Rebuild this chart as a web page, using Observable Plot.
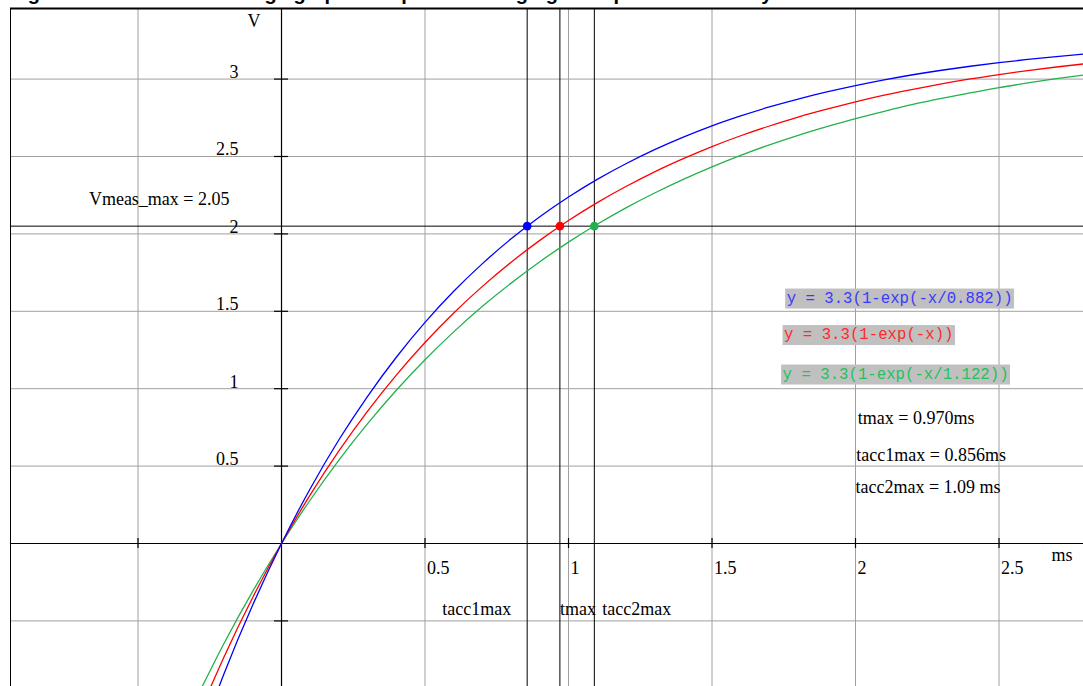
<!DOCTYPE html>
<html>
<head>
<meta charset="utf-8">
<script src="https://cdn.jsdelivr.net/npm/d3@7"></script>
<script src="https://cdn.jsdelivr.net/npm/@observablehq/plot@0.6"></script>
<style>
html, body { margin: 0; padding: 0; background: #fff; overflow: hidden; }
#title { height: 7px; overflow: hidden; position: relative; }
#title span { position: absolute; left: 10px; top: -19px; font: bold 20px "Liberation Sans", Arial, sans-serif; line-height: 24px; white-space: nowrap; color: #000; }
#chart svg { display: block; }
</style>
</head>
<body>
<div id="title"><span>Figure 12: Calculated voltage graph of capacitor charging vs capacitor accuracy</span></div>
<div id="chart"></div>
<script>
// ---- data ----
const xSample = [-0.3, -0.2, -0.1, 0, 0.1, 0.2, 0.3, 0.4, 0.5, 0.6, 0.7, 0.8, 0.9, 1.0, 1.1, 1.2, 1.3, 1.4, 1.5, 1.6, 1.7, 1.8, 1.9, 2.0, 2.1, 2.2, 2.3, 2.4, 2.5, 2.6, 2.7, 2.8];
const vBlue  = [-1.337, -0.840, -0.396, 0, 0.354, 0.670, 0.951, 1.203, 1.428, 1.629, 1.808, 1.968, 2.111, 2.238, 2.352, 2.453, 2.544, 2.625, 2.698, 2.762, 2.820, 2.871, 2.917, 2.958, 2.995, 3.028, 3.057, 3.083, 3.106, 3.127, 3.145, 3.162];
const vRed   = [-1.155, -0.731, -0.347, 0, 0.314, 0.598, 0.855, 1.088, 1.298, 1.489, 1.661, 1.817, 1.958, 2.086, 2.202, 2.306, 2.401, 2.486, 2.564, 2.634, 2.697, 2.755, 2.806, 2.853, 2.896, 2.934, 2.969, 3.001, 3.029, 3.055, 3.078, 3.099];
const vGreen = [-1.012, -0.644, -0.308, 0, 0.281, 0.539, 0.774, 0.990, 1.187, 1.367, 1.532, 1.682, 1.820, 1.947, 2.062, 2.168, 2.264, 2.352, 2.433, 2.507, 2.575, 2.637, 2.693, 2.745, 2.792, 2.836, 2.875, 2.911, 2.945, 2.975, 3.003, 3.028];

const vmeasMax = 2.05;
const crossNames = ["tacc1max", "tmax", "tacc2max"];
const crossTimes = [0.856, 0.970, 1.09];
const crossColors = ["#0000ff", "#ff0000", "#22b14c"];

const formulaTexts = ["y = 3.3(1-exp(-x/0.882))", "y = 3.3(1-exp(-x))", "y = 3.3(1-exp(-x/1.122))"];
const formulaColors = ["#3a3aff", "#ff2a2a", "#25c05a"];
const formulaX = [1.760, 1.751, 1.746];
const formulaY = [1.589, 1.353, 1.098];

const resultTexts = ["tmax = 0.970ms", "tacc1max = 0.856ms", "tacc2max = 1.09 ms"];
const resultX = [2.008, 2.003, 2.000];
const resultY = [0.775, 0.536, 0.323];

const xGrid = [-0.5, 0.5, 1, 1.5, 2, 2.5];
const yGrid = [-0.5, 0.5, 1, 1.5, 2, 2.5, 3];
const xTickLabels = [0.5, 1, 1.5, 2, 2.5];
const yTickLabels = [0.5, 1, 1.5, 2, 2.5, 3];
const xDomain = [-0.9443, 2.7944];
const yDomain = [-0.9238, 3.456];

// ---- build ----
const serif = "'Liberation Serif', 'Times New Roman', serif";
const mono = "'Liberation Mono', 'Courier New', monospace";
const mk = (vals) => xSample.map((x, i) => ({x, y: vals[i]}));
const crossPts = crossTimes.map((t, i) => ({t, v: vmeasMax, c: crossColors[i], name: crossNames[i]}));
const formulas = formulaTexts.map((t, i) => ({t, x: formulaX[i], y: formulaY[i], c: formulaColors[i]}));
const results = resultTexts.map((t, i) => ({t, x: resultX[i], y: resultY[i]}));
const txt = {fontSize: 18, fontFamily: serif, fill: "#000", lineAnchor: "bottom"};

const plot = Plot.plot({
  width: 1083,
  height: 679,
  marginLeft: 10,
  marginRight: 0,
  marginTop: 1,
  marginBottom: 0,
  style: {background: "#fff", fontFamily: serif, overflow: "visible"},
  x: {domain: xDomain, axis: null},
  y: {domain: yDomain, axis: null},
  marks: [
    // grid
    Plot.ruleX(xGrid, {x: d => d, stroke: "#a0a0a0", strokeWidth: 1}),
    Plot.ruleY(yGrid, {y: d => d, stroke: "#a0a0a0", strokeWidth: 1}),
    // frame (top & left)
    Plot.ruleY([yDomain[1]], {y: d => d, stroke: "#000", strokeWidth: 2}),
    Plot.ruleX([xDomain[0]], {x: d => d, stroke: "#000", strokeWidth: 1}),
    // axes
    Plot.ruleX([0], {x: d => d, stroke: "#000", strokeWidth: 1.2}),
    Plot.ruleY([0], {y: d => d, stroke: "#000", strokeWidth: 1.2}),
    // ticks
    Plot.ruleY(yGrid, {y: d => d, x1: () => 0, x2: () => 0, insetLeft: -7, insetRight: -7, stroke: "#000", strokeWidth: 1.2}),
    Plot.ruleX(xGrid, {x: d => d, y1: () => 0, y2: () => 0, insetTop: -5, insetBottom: -5, stroke: "#000", strokeWidth: 1.2}),
    // marker lines
    Plot.ruleY([vmeasMax], {y: d => d, stroke: "#000", strokeWidth: 1}),
    Plot.ruleX(crossTimes, {x: d => d, stroke: "#000", strokeWidth: 1}),
    // curves
    Plot.line(mk(vGreen), {x: "x", y: "y", stroke: "#22b14c", strokeWidth: 1.3, curve: "natural", clip: true}),
    Plot.line(mk(vRed), {x: "x", y: "y", stroke: "#ff0000", strokeWidth: 1.3, curve: "natural", clip: true}),
    Plot.line(mk(vBlue), {x: "x", y: "y", stroke: "#0000ff", strokeWidth: 1.3, curve: "natural", clip: true}),
    // crossing points
    Plot.dot(crossPts, {x: "t", y: "v", fill: d => d.c, r: 4.3, stroke: "none"}),
    // tick labels
    Plot.text(yTickLabels, {...txt, x: () => 0, y: d => d, text: d => String(d), textAnchor: "end", dx: -43, dy: -1}),
    Plot.text(xTickLabels, {...txt, x: d => d, y: () => 0, text: d => String(d), textAnchor: "start", dx: 2, dy: 31}),
    Plot.text(["V"], {...txt, x: () => 0, y: () => yDomain[1], text: d => d, textAnchor: "start", dx: -34, dy: 18}),
    Plot.text(["ms"], {...txt, x: () => xDomain[1], y: () => 0, text: d => d, textAnchor: "end", dx: -11, dy: 18}),
    // Vmeas label
    Plot.text(["Vmeas_max = 2.05"], {...txt, x: () => 0, y: () => vmeasMax, text: d => d, textAnchor: "end", dx: -52, dy: -21}),
    // labels under vertical lines
    Plot.text(crossPts.filter(d => d.name === "tacc1max"), {...txt, x: "t", y: () => 0, text: "name", textAnchor: "end", dx: -16, dy: 72}),
    Plot.text(crossPts.filter(d => d.name === "tmax"), {...txt, x: "t", y: () => 0, text: "name", textAnchor: "start", dx: 0, dy: 72}),
    Plot.text(crossPts.filter(d => d.name === "tacc2max"), {...txt, x: "t", y: () => 0, text: "name", textAnchor: "start", dx: 8, dy: 72}),
    // formulas
    Plot.text(formulas, {x: "x", y: "y", text: "t", fill: "c", textAnchor: "start", lineAnchor: "middle", fontSize: 15.7, fontFamily: mono}),
    // results
    Plot.text(results, {...txt, x: "x", y: "y", text: "t", textAnchor: "start"})
  ]
});

document.getElementById("chart").append(plot);

// gray background boxes behind formula texts
const ns = "http://www.w3.org/2000/svg";
plot.querySelectorAll("text").forEach(t => {
  const s = t.textContent;
  if (formulaTexts.includes(s)) {
    const b = t.getBBox();
    const r = document.createElementNS(ns, "rect");
    r.setAttribute("x", b.x - 1.5);
    r.setAttribute("y", b.y - 1);
    r.setAttribute("width", b.width + 3);
    r.setAttribute("height", b.height + 2);
    r.setAttribute("fill", "#c0c0c0");
    if (t.getAttribute("transform")) r.setAttribute("transform", t.getAttribute("transform"));
    t.parentNode.insertBefore(r, t);
  }
});
</script>
</body>
</html>
